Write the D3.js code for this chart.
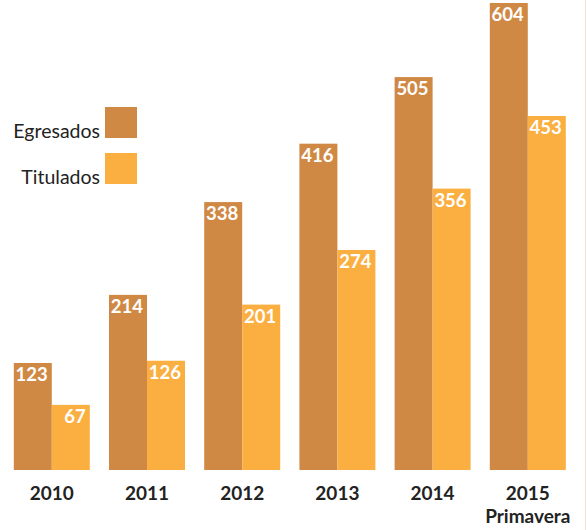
<!DOCTYPE html>
<html><head><meta charset="utf-8">
<script src="https://cdn.jsdelivr.net/npm/d3@7"></script>
<style>body{margin:0;background:#fff}svg{display:block}</style>
</head><body>
<script>
const categories = ["2010","2011","2012","2013","2014","2015"];
const subLabels = ["","","","","","Primavera"];
const seriesNames = ["Egresados","Titulados"];
const egresados = [123,214,338,416,505,604];
const titulados = [67,126,201,274,356,453];
const colors = ["#D08944","#FBAF41"];

const W=587,H=530;
const svg=d3.select("body").append("svg").attr("width",W).attr("height",H);

const x=d3.scaleBand().domain(categories).range([13.8,565.8]).paddingInner(0.2017).paddingOuter(0);
const xs=d3.scaleBand().domain(seriesNames).range([0,x.bandwidth()]);
const y=d3.scaleLinear().domain([-20,604]).range([470,3]);

const data=categories.map((c,i)=>({c,vals:[egresados[i],titulados[i]]}));
const g=svg.append("g").selectAll("g").data(data).join("g").attr("transform",d=>`translate(${x(d.c)},0)`);
g.selectAll("rect").data(d=>d.vals.map((v,j)=>({v,s:seriesNames[j],j}))).join("rect")
  .attr("x",d=>xs(d.s)).attr("width",xs.bandwidth())
  .attr("y",d=>y(d.v)).attr("height",d=>y(-20)-y(d.v))
  .attr("fill",d=>colors[d.j]);
g.selectAll("text").data(d=>d.vals.map((v,j)=>({v,s:seriesNames[j],j}))).join("text")
  .attr("x",d=>xs(d.s)+xs.bandwidth()-4).attr("y",d=>y(d.v)+18)
  .attr("text-anchor","end").attr("fill","#fff")
  .style("font-family","Lato").style("font-weight","bold").style("font-size","18.5px")
  .text(d=>d.v);

// x axis labels
const ax=svg.append("g").attr("transform","translate(0,500)")
  .call(d3.axisBottom(x).tickSize(0).tickPadding(0));
ax.select(".domain").remove();
ax.selectAll(".tick text").attr("y",0).attr("dy",0)
  .attr("fill","#222").style("font-family","Lato").style("font-weight","bold").style("font-size","19px")
  .each(function(d,i){ if(subLabels[i]) d3.select(this).append("tspan").attr("x",0).attr("dy",23).text(subLabels[i]); });

// legend
const leg=svg.append("g");
seriesNames.forEach((s,i)=>{
  const yy=107+i*46;
  leg.append("rect").attr("x",105).attr("y",yy).attr("width",32).attr("height",31).attr("fill",colors[i]);
  leg.append("text").attr("x",100).attr("y",yy+31).attr("text-anchor","end")
    .attr("fill","#222").style("font-family","Lato").style("font-size","19.5px").text(s);
});

svg.append("line").attr("x1",585.5).attr("x2",585.5).attr("y1",0).attr("y2",H).attr("stroke","#F8E0CC").attr("stroke-width",1);
</script>
</body></html>
